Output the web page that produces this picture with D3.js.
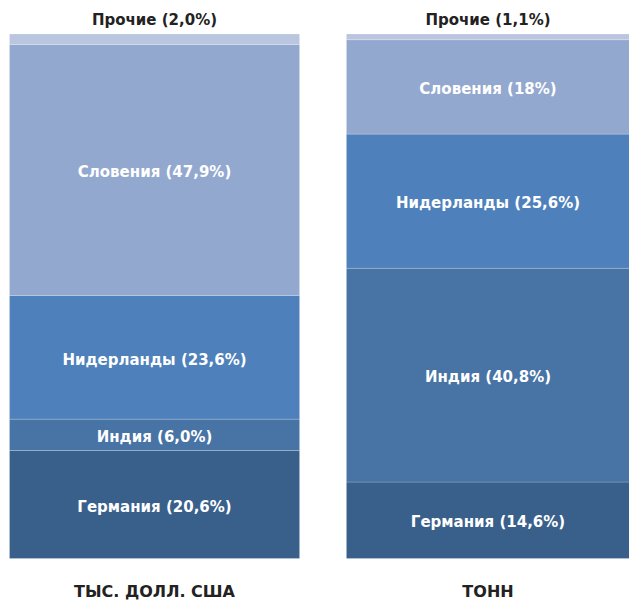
<!DOCTYPE html>
<html>
<head>
<meta charset="utf-8">
<script src="https://cdn.jsdelivr.net/npm/d3@7"></script>
<style>
  html, body { margin: 0; padding: 0; background: #fff; }
  svg { display: block; }
</style>
</head>
<body>
<div id="chart"></div>
<script>
(function() {
  'use strict';

  // Data (bottom to top)
  var countries = ['Германия', 'Индия', 'Нидерланды', 'Словения', 'Прочие'];
  var measures = ['ТЫС. ДОЛЛ. США', 'ТОНН'];
  var usdValues = [20.6, 6.0, 23.6, 47.9, 2.0];
  var tonValues = [14.6, 40.8, 25.6, 18, 1.1];
  var usdLabels = ['20,6', '6,0', '23,6', '47,9', '2,0'];
  var tonLabels = ['14,6', '40,8', '25,6', '18', '1,1'];

  var colors = ['#39608b', '#4773a5', '#4e81bb', '#93a8cf', '#bac6df'];

  var width = 629, height = 601;
  var font = '"DejaVu Sans", "Open Sans", sans-serif';

  var rows = measures.map(function(m, i) {
    var vals = i === 0 ? usdValues : tonValues;
    var labs = i === 0 ? usdLabels : tonLabels;
    var r = { measure: m, labels: {} };
    countries.forEach(function(c, j) { r[c] = vals[j]; r.labels[c] = labs[j]; });
    return r;
  });

  var series = d3.stack().keys(countries)(rows);

  var x = d3.scaleBand()
    .domain(measures)
    .range([9.5, 636.5])
    .paddingInner(0.139)
    .paddingOuter(0);

  var y = d3.scaleLinear()
    .domain([0, 100.1])
    .range([558.5, 34]);

  // visible centre of each bar (right bar is clipped by the page edge)
  function centre(m) {
    var cx = x(m) + x.bandwidth() / 2;
    return Math.min(cx, 488);
  }

  var svg = d3.select('#chart').append('svg')
    .attr('width', width)
    .attr('height', height);

  var color = d3.scaleOrdinal().domain(countries).range(colors);

  var groups = svg.append('g')
    .selectAll('g')
    .data(series)
    .join('g')
    .attr('fill', function(s) { return color(s.key); });

  groups.selectAll('rect')
    .data(function(s) { return s; })
    .join('rect')
    .attr('x', function(d) { return x(d.data.measure); })
    .attr('width', x.bandwidth())
    .attr('y', function(d) { return y(d[1]); })
    .attr('height', function(d) { return y(d[0]) - y(d[1]); })
    .attr('stroke', 'rgba(255,255,255,0.25)')
    .attr('stroke-width', 0.8);

  // Segment labels
  var labels = svg.append('g')
    .style('font-family', font)
    .style('font-weight', '700')
    .style('font-size', '15px');

  series.forEach(function(s) {
    s.forEach(function(d) {
      var isOther = s.key === 'Прочие';
      var cy = isOther ? y(d[1]) - 14 : (y(d[0]) + y(d[1])) / 2 + 2;
      labels.append('text')
        .attr('x', centre(d.data.measure))
        .attr('y', cy)
        .attr('dy', '0.35em')
        .attr('text-anchor', 'middle')
        .attr('fill', isOther ? '#222222' : '#ffffff')
        .text(s.key + ' (' + d.data.labels[s.key] + '%)');
    });
  });

  // Bottom axis labels
  var axis = svg.append('g')
    .attr('transform', 'translate(0,597)')
    .call(d3.axisBottom(x).tickSize(0).tickPadding(0));
  axis.select('.domain').remove();
  axis.selectAll('text')
    .attr('dy', null)
    .attr('y', 0)
    .style('font-family', font)
    .style('font-weight', '700')
    .style('font-size', '16px')
    .attr('fill', '#222222');
  axis.selectAll('.tick')
    .attr('transform', function(d) { return 'translate(' + centre(d) + ',0)'; });
})();
</script>
</body>
</html>
